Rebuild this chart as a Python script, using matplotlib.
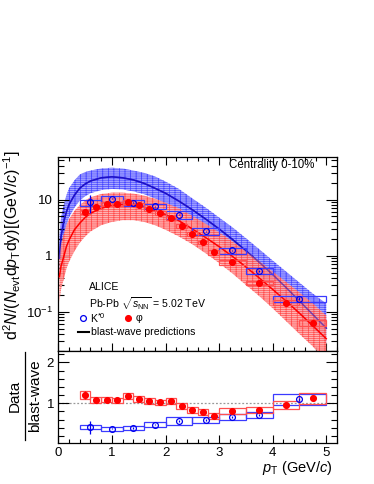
import numpy as np
import matplotlib
matplotlib.use('Agg')
import matplotlib.pyplot as plt
from matplotlib.patches import Rectangle
from matplotlib.lines import Line2D
from matplotlib.ticker import FixedLocator, FixedFormatter, MultipleLocator, LogLocator, NullFormatter

plt.rcParams['font.family'] = ['Liberation Sans', 'DejaVu Sans']
plt.rcParams['mathtext.fontset'] = 'custom'
plt.rcParams['mathtext.rm'] = 'Liberation Sans'
plt.rcParams['mathtext.it'] = 'Liberation Sans:italic'
plt.rcParams['mathtext.bf'] = 'Liberation Sans:bold'
plt.rcParams['hatch.linewidth'] = 0.5

# blast-wave predictions
bw_pt = [0.02, 0.05, 0.1, 0.15, 0.2, 0.3, 0.4, 0.5, 0.6, 0.8, 1.0, 1.2, 1.4, 1.6,
         1.8, 2.0, 2.25, 2.5, 2.75, 3.0, 3.25, 3.5, 3.75, 4.0, 4.25, 4.5, 4.75, 5.0]
bw_kst = [0.9, 2.2, 4.0, 6.0, 8.2, 12, 16, 19, 21.5, 24.5, 25.5, 24.5, 22.5, 19.5,
          16, 13, 9.4, 6.6, 4.5, 3.0, 1.95, 1.22, 0.76, 0.46, 0.27, 0.155, 0.089, 0.051]
bw_kst_hi = [2.2, 4.8, 8.0, 12, 16, 22, 28, 31, 33, 36, 37, 36, 33, 30,
             26, 21, 15.5, 10.5, 7.2, 4.8, 3.2, 2.05, 1.3, 0.82, 0.52, 0.33, 0.21, 0.14]
bw_kst_lo = [0.45, 1.0, 2.0, 3.4, 4.8, 7.2, 9.6, 11.5, 13, 14.8, 15.5, 15.2, 14, 12.5,
             10.5, 8.5, 6.0, 4.2, 2.8, 1.85, 1.2, 0.74, 0.45, 0.27, 0.155, 0.088, 0.05, 0.028]
bw_phi = [0.42, 0.65, 0.95, 1.45, 1.9, 2.9, 3.8, 4.8, 5.7, 7.0, 7.9, 8.2, 8.0, 7.3,
          6.4, 5.4, 4.2, 3.0, 2.1, 1.45, 0.97, 0.63, 0.40, 0.25, 0.155, 0.094, 0.056, 0.033]
bw_phi_hi = [1.0, 1.6, 2.4, 3.5, 4.5, 6.3, 8.0, 9.6, 11, 12.6, 13.3, 13.3, 12.8, 11.8,
             10.4, 8.8, 7.0, 5.1, 3.7, 2.6, 1.8, 1.2, 0.8, 0.52, 0.34, 0.22, 0.14, 0.085]
bw_phi_lo = [0.15, 0.25, 0.38, 0.58, 0.78, 1.2, 1.7, 2.2, 2.7, 3.5, 4.0, 4.3, 4.3, 4.0,
             3.5, 2.9, 2.2, 1.6, 1.1, 0.74, 0.48, 0.30, 0.19, 0.115, 0.068, 0.04, 0.024, 0.013]

# K*0 spectrum
kst_lo_edge = [0.4, 0.8, 1.2, 1.6, 2.0, 2.5, 3.0, 3.5, 4.0]
kst_hi_edge = [0.8, 1.2, 1.6, 2.0, 2.5, 3.0, 3.5, 4.0, 5.0]
kst_pt = [0.6, 1.0, 1.4, 1.8, 2.25, 2.75, 3.25, 3.75, 4.5]
kst_y = [8.9, 10.4, 8.8, 7.6, 5.4, 2.7, 1.24, 0.54, 0.17]
kst_stat = [3.2, 0.3, 0.25, 0.2, 0.15, 0.08, 0.04, 0.02, 0.01]
kst_sys = [0.12, 0.12, 0.12, 0.12, 0.15, 0.14, 0.12, 0.11, 0.12]   # relative

# phi spectrum
phi_lo_edge = [0.4, 0.6, 0.8, 1.0, 1.2, 1.4, 1.6, 1.8, 2.0, 2.2, 2.4, 2.6, 2.8, 3.0, 3.5, 4.0, 4.5]
phi_hi_edge = [0.6, 0.8, 1.0, 1.2, 1.4, 1.6, 1.8, 2.0, 2.2, 2.4, 2.6, 2.8, 3.0, 3.5, 4.0, 4.5, 5.0]
phi_pt = [0.5, 0.7, 0.9, 1.1, 1.3, 1.5, 1.7, 1.9, 2.1, 2.3, 2.5, 2.7, 2.9, 3.25, 3.75, 4.25, 4.75]
phi_y = [6.0, 7.4, 8.4, 8.4, 9.1, 7.9, 6.8, 5.8, 4.7, 3.4, 2.4, 1.72, 1.15, 0.76, 0.33, 0.146, 0.063]
phi_stat = [0.5, 0.2, 0.2, 0.2, 0.2, 0.15, 0.15, 0.1, 0.1, 0.07, 0.05, 0.04, 0.03, 0.02, 0.01, 0.005, 0.004]
phi_sys = [0.09, 0.08, 0.08, 0.08, 0.08, 0.08, 0.08, 0.08, 0.08, 0.08, 0.08, 0.08, 0.09, 0.09, 0.09, 0.1, 0.11]

# data / blast-wave
kst_ratio = [0.41, 0.38, 0.39, 0.48, 0.57, 0.59, 0.66, 0.715, 1.10]
kst_ratio_stat = [0.15, 0.02, 0.02, 0.02, 0.02, 0.02, 0.02, 0.03, 0.04]
kst_ratio_sys = [0.05, 0.05, 0.05, 0.07, 0.09, 0.08, 0.07, 0.07, 0.135]
phi_ratio = [1.20, 1.08, 1.09, 1.07, 1.18, 1.11, 1.06, 1.02, 1.05, 0.94, 0.83, 0.79, 0.69, 0.81, 0.84, 0.95, 1.12]
phi_ratio_stat = [0.1, 0.03, 0.03, 0.03, 0.03, 0.03, 0.03, 0.03, 0.03, 0.03, 0.03, 0.03, 0.03, 0.03, 0.04, 0.03, 0.05]
phi_ratio_sys = [0.1, 0.07, 0.07, 0.07, 0.07, 0.07, 0.07, 0.07, 0.07, 0.07, 0.07, 0.07, 0.07, 0.075, 0.075, 0.095, 0.13]

BLUE = '#0000ee'
RED = '#ff0000'
BOX_BLUE = '#3a3aff'
BOX_RED = '#ff5050'

fig = plt.figure(figsize=(3.74, 4.84), dpi=100)
ax1 = fig.add_axes([0.156, 0.275, 0.745, 0.401])
ax2 = fig.add_axes([0.156, 0.0847, 0.745, 0.1903])

# top panel: bands (grid-like fill as in ROOT) + curves
ax1.fill_between(bw_pt, bw_kst_lo, bw_kst_hi, facecolor='#a8a8ff', edgecolor='#4848ff',
                 hatch='--------|||', lw=0, zorder=1)
ax1.plot(bw_pt, bw_kst, color='#1a10d0', lw=1.1, zorder=2)
ax1.fill_between(bw_pt, bw_phi_lo, bw_phi_hi, facecolor='#ffa8a8', edgecolor='#ff4040',
                 hatch='--------|||', lw=0, alpha=0.88, zorder=3)
ax1.plot(bw_pt, bw_kst, color='#2010c0', lw=1.1, alpha=0.55, zorder=3.5)
ax1.plot(bw_pt, bw_phi, color=RED, lw=1.1, zorder=3.6)

for lo, hi, y, s in zip(kst_lo_edge, kst_hi_edge, kst_y, kst_sys):
    ax1.add_patch(Rectangle((lo, y * (1 - s)), hi - lo, y * 2 * s, fill=False,
                            edgecolor=BOX_BLUE, lw=0.9, zorder=4))
for lo, hi, y, s in zip(phi_lo_edge, phi_hi_edge, phi_y, phi_sys):
    ax1.add_patch(Rectangle((lo, y * (1 - s)), hi - lo, y * 2 * s, fill=False,
                            edgecolor=BOX_RED, lw=0.9, zorder=4))
ax1.errorbar(kst_pt, kst_y, yerr=kst_stat, fmt='o', mfc='none', mec=BLUE, ecolor=BLUE,
             ms=4.2, mew=0.9, elinewidth=0.9, capsize=0, zorder=5)
ax1.errorbar(phi_pt, phi_y, yerr=phi_stat, fmt='o', mfc=RED, mec=RED, ecolor=RED,
             ms=4.2, mew=0.9, elinewidth=0.9, capsize=0, zorder=6)

ax1.set_xlim(0, 5.2)
ax1.set_yscale('log')
ax1.set_ylim(0.02, 58)
ax1.yaxis.set_major_locator(FixedLocator([0.1, 1, 10]))
ax1.yaxis.set_major_formatter(FixedFormatter([r'$10^{-1}$', '1', '10']))
ax1.yaxis.set_minor_locator(LogLocator(base=10, subs=np.arange(2, 10)))
ax1.yaxis.set_minor_formatter(NullFormatter())
ax1.xaxis.set_major_locator(MultipleLocator(1))
ax1.xaxis.set_minor_locator(MultipleLocator(0.2))
ax1.tick_params(which='both', direction='in', top=True, right=True, labelbottom=False,
                labelsize=9.5, width=0.8)
ax1.tick_params(axis='y', which='major', length=8, pad=4)
ax1.tick_params(axis='y', which='minor', length=4)
ax1.tick_params(axis='x', which='major', length=6)
ax1.tick_params(axis='x', which='minor', length=3)

# bottom panel: ratio
ax2.axhline(1, color='#999999', ls=(0, (1.5, 1.5)), lw=0.9, zorder=1)
for lo, hi, r, s in zip(kst_lo_edge, kst_hi_edge, kst_ratio, kst_ratio_sys):
    ax2.add_patch(Rectangle((lo, r - s), hi - lo, 2 * s, fill=False,
                            edgecolor=BOX_BLUE, lw=0.9, zorder=3))
for lo, hi, r, s in zip(phi_lo_edge, phi_hi_edge, phi_ratio, phi_ratio_sys):
    ax2.add_patch(Rectangle((lo, r - s), hi - lo, 2 * s, fill=False,
                            edgecolor=BOX_RED, lw=0.9, zorder=3))
ax2.errorbar(kst_pt, kst_ratio, yerr=kst_ratio_stat, fmt='o', mfc='none', mec=BLUE,
             ecolor=BLUE, ms=4.2, mew=0.9, elinewidth=0.9, capsize=0, zorder=5)
ax2.errorbar(phi_pt, phi_ratio, yerr=phi_ratio_stat, fmt='o', mfc=RED, mec=RED,
             ecolor=RED, ms=4.2, mew=0.9, elinewidth=0.9, capsize=0, zorder=6)

ax2.set_xlim(0, 5.2)
ax2.set_ylim(0.03, 2.28)
ax2.yaxis.set_major_locator(FixedLocator([1, 2]))
ax2.yaxis.set_minor_locator(MultipleLocator(0.2))
ax2.xaxis.set_major_locator(MultipleLocator(1))
ax2.xaxis.set_minor_locator(MultipleLocator(0.2))
ax2.tick_params(which='both', direction='in', top=False, right=True, labelsize=9.5, width=0.8)
ax2.tick_params(axis='y', which='major', length=8, pad=3)
ax2.tick_params(axis='y', which='minor', length=4)
ax2.tick_params(axis='x', which='major', length=6, pad=3)
ax2.tick_params(axis='x', which='minor', length=3)

for ax in (ax1, ax2):
    for sp in ax.spines.values():
        sp.set_linewidth(0.9)

# axis titles
fig.text(0.032, 0.494, r'd$^{2}$$N$/($N_{\rm evt}$d$p_{\rm T}$dy)[(GeV/$c$)$^{-1}$]',
         rotation=90, ha='center', va='center', fontsize=11.5)
fig.text(0.89, 0.033, r'$p_{\rm T}$ (GeV/$c$)', ha='right', va='center', fontsize=10.5)
fig.text(0.040, 0.182, 'Data', rotation=90, ha='center', va='center', fontsize=11)
fig.text(0.093, 0.182, 'blast-wave', rotation=90, ha='center', va='center', fontsize=11)
fig.add_artist(Line2D([0.066, 0.066], [0.091, 0.273], transform=fig.transFigure,
                      color='black', lw=0.9))

# labels / legend
fig.text(0.8396, 0.660, 'Centrality 0-10%', ha='right', va='center', fontsize=8.3)
fig.text(0.2388, 0.407, 'ALICE', ha='left', va='center', fontsize=7.6)
fig.text(0.2388, 0.373, r'Pb-Pb $\sqrt{s_{\rm NN}}$ = 5.02 TeV', ha='left', va='center', fontsize=7.6)
fig.add_artist(Line2D([0.2211], [0.343], transform=fig.transFigure, marker='o', ms=4.2,
                      mfc='none', mec=BLUE, mew=0.9, ls='none'))
fig.text(0.2406, 0.343, r'K$^{*0}$', ha='left', va='center', fontsize=7.6)
fig.add_artist(Line2D([0.343], [0.343], transform=fig.transFigure, marker='o', ms=4.2,
                      mfc=RED, mec=RED, mew=0.9, ls='none'))
fig.text(0.3636, 0.343, 'φ', ha='left', va='center', fontsize=7.6)
fig.add_artist(Line2D([0.2086, 0.238], [0.314, 0.314], transform=fig.transFigure,
                      color='black', lw=1.5))
fig.text(0.2425, 0.314, 'blast-wave predictions', ha='left', va='center', fontsize=7.6)

fig.savefig('out.png', dpi=100)
